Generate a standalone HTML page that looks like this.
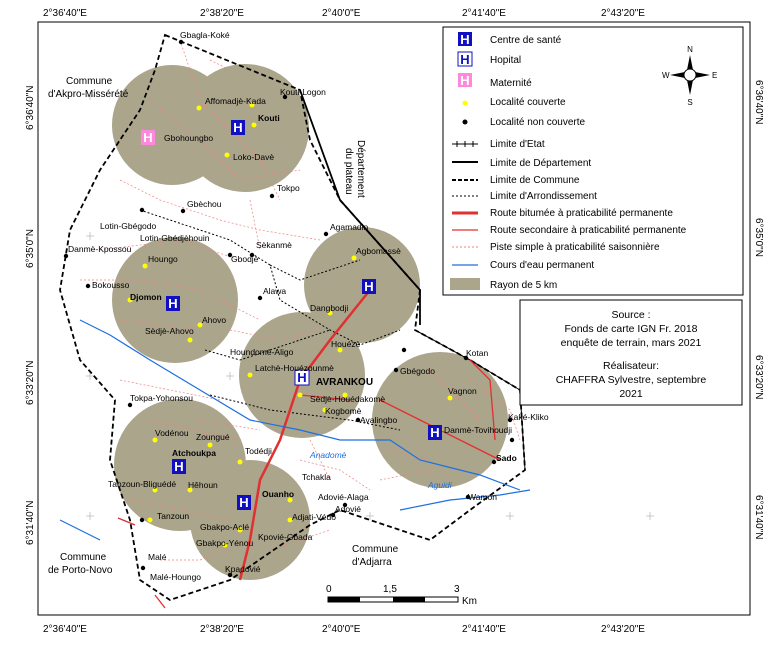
<!DOCTYPE html>
<html><head><meta charset="utf-8"><style>
body{margin:0;background:#fff;}
svg{display:block;font-family:"Liberation Sans",sans-serif;}
</style></head><body>
<svg width="775" height="645" viewBox="0 0 775 645" xmlns="http://www.w3.org/2000/svg">
<rect x="0" y="0" width="775" height="645" fill="#fff"/>
<rect x="38" y="22" width="712" height="593" fill="#fff" stroke="#000" stroke-width="1"/>
<g font-size="10" fill="#000">
<text x="43" y="16">2°36'40"E</text><text x="200" y="16">2°38'20"E</text><text x="322" y="16">2°40'0"E</text><text x="462" y="16">2°41'40"E</text><text x="601" y="16">2°43'20"E</text>
<text x="43" y="632">2°36'40"E</text><text x="200" y="632">2°38'20"E</text><text x="322" y="632">2°40'0"E</text><text x="462" y="632">2°41'40"E</text><text x="601" y="632">2°43'20"E</text>
<text transform="translate(33,130) rotate(-90)">6°36'40"N</text>
<text transform="translate(33,268) rotate(-90)">6°35'0"N</text>
<text transform="translate(33,405) rotate(-90)">6°33'20"N</text>
<text transform="translate(33,545) rotate(-90)">6°31'40"N</text>
<text transform="translate(756,80) rotate(90)">6°36'40"N</text>
<text transform="translate(756,218) rotate(90)">6°35'0"N</text>
<text transform="translate(756,355) rotate(90)">6°33'20"N</text>
<text transform="translate(756,495) rotate(90)">6°31'40"N</text>
</g>
<g stroke="#bbb" stroke-width="0.8">
<path d="M86,96h8M90,92v8M86,236h8M90,232v8M86,376h8M90,372v8M86,516h8M90,512v8M226,376h8M230,372v8M366,516h8M370,512v8M506,516h8M510,512v8M646,376h8M650,372v8M646,516h8M650,512v8M646,236h8M650,232v8M646,96h8M650,92v8"/>
</g>
<g fill="#aba58c">
<circle cx="172" cy="125" r="60"/><circle cx="245" cy="128" r="64"/>
<circle cx="175" cy="300" r="63"/><circle cx="362" cy="285" r="58"/>
<circle cx="302" cy="375" r="63"/><circle cx="440" cy="420" r="68"/>
<circle cx="180" cy="465" r="66"/><circle cx="250" cy="520" r="60"/>
</g>
<!-- pistes -->
<path d="M180,40 L200,100 L260,160 L280,200 M100,250 L180,240 L240,260 M120,320 L200,330 M150,420 L240,440 M380,480 L430,470 M430,370 L480,420 M150,100 L200,140 L240,180 L300,170 M120,180 L160,200 L220,220 L260,230 L320,240 M80,280 L140,280 L200,290 L260,320 M230,330 L280,340 L320,330 M120,380 L170,390 L220,400 M200,420 L260,430 M130,500 L180,510 L230,520 M300,460 L340,470 L370,490 M390,450 L430,460 M470,380 L510,410 L520,440 M160,560 L200,560 L230,550 M270,550 L300,540 L330,530 M250,200 L260,250 M210,60 L230,70 M310,440 L330,480" fill="none" stroke="#f08080" stroke-width="0.7" stroke-dasharray="2,2"/>
<path d="M165,35 L300,90 L310,140 L340,200 L420,290 L415,330 L470,360 L520,390 L525,470 L470,510 L430,540 L400,530 L340,510 L310,525 L230,580 L170,600 L140,580 L130,520 L110,460 L115,400 L80,360 L60,290 L70,230 L100,170 L140,110 L155,70 Z" fill="none" stroke="#000" stroke-width="1.8" stroke-dasharray="5,3"/>
<path d="M300,90 L340,200 L420,290 L420,325" fill="none" stroke="#000" stroke-width="1.8"/>
<path d="M415,330 L470,360 L520,390 L525,470" fill="none" stroke="#000" stroke-width="1"/>
<path d="M140,210 L230,240 L270,265 L280,300 L330,330 L360,345 L400,330 M270,265 L300,280 L360,260 M205,350 L240,360 L330,330 M210,395 L270,410 L350,420 L400,430" fill="none" stroke="#000" stroke-dasharray="2,2"/>
<path d="M370,290 L330,340 L300,380 L280,440 L260,480 L250,540 L240,580" fill="none" stroke="#e03030" stroke-width="2.5"/>
<path d="M380,400 L440,430 L500,460 M470,360 L490,380 L495,440 M300,395 L350,400 M118,518 L135,525 M155,595 L165,608" fill="none" stroke="#e03030" stroke-width="1.3"/>
<path d="M80,320 L110,335 L150,360 L200,390 L250,420 L300,430 L340,440 L390,440 L420,460 L480,475 L520,490 M400,510 L450,500 L500,495 L530,490 M60,520 L100,540" fill="none" stroke="#1e6fe0" stroke-width="1.2"/>
<g fill="#ffff00">
<circle cx="252" cy="105" r="2.5"/><circle cx="254" cy="125" r="2.5"/><circle cx="227" cy="155" r="2.5"/><circle cx="199" cy="108" r="2.5"/>
<circle cx="145" cy="266" r="2.5"/><circle cx="130" cy="300" r="2.5"/><circle cx="200" cy="325" r="2.5"/><circle cx="190" cy="340" r="2.5"/>
<circle cx="354" cy="258" r="2.5"/><circle cx="330" cy="313" r="2.5"/><circle cx="340" cy="350" r="2.5"/><circle cx="250" cy="375" r="2.5"/><circle cx="300" cy="395" r="2.5"/><circle cx="345" cy="395" r="2.5"/><circle cx="325" cy="410" r="2.5"/>
<circle cx="450" cy="398" r="2.5"/><circle cx="440" cy="430" r="2.5"/>
<circle cx="155" cy="440" r="2.5"/><circle cx="210" cy="445" r="2.5"/><circle cx="240" cy="462" r="2.5"/><circle cx="155" cy="490" r="2.5"/><circle cx="190" cy="490" r="2.5"/><circle cx="150" cy="520" r="2.5"/><circle cx="290" cy="500" r="2.5"/><circle cx="240" cy="530" r="2.5"/><circle cx="290" cy="520" r="2.5"/><circle cx="225" cy="545" r="2.5"/>
</g>
<g fill="#000">
<circle cx="181" cy="42" r="2.2"/><circle cx="285" cy="97" r="2.2"/><circle cx="272" cy="196" r="2.2"/><circle cx="183" cy="211" r="2.2"/><circle cx="142" cy="210" r="2.2"/><circle cx="66" cy="256" r="2.2"/><circle cx="88" cy="286" r="2.2"/><circle cx="230" cy="255" r="2.2"/><circle cx="252" cy="255" r="2.2"/><circle cx="260" cy="298" r="2.2"/><circle cx="326" cy="234" r="2.2"/><circle cx="404" cy="350" r="2.2"/><circle cx="396" cy="370" r="2.2"/><circle cx="466" cy="358" r="2.2"/><circle cx="510" cy="420" r="2.2"/><circle cx="512" cy="440" r="2.2"/><circle cx="494" cy="462" r="2.2"/><circle cx="130" cy="405" r="2.2"/><circle cx="142" cy="520" r="2.2"/><circle cx="143" cy="568" r="2.2"/><circle cx="230" cy="575" r="2.2"/><circle cx="345" cy="505" r="2.2"/><circle cx="333" cy="515" r="2.2"/><circle cx="468" cy="497" r="2.2"/><circle cx="358" cy="420" r="2.2"/>
</g>
<g font-weight="bold" font-size="13" text-anchor="middle">
<rect x="231" y="120" width="14" height="15" fill="#1010c0"/><text x="238" y="132" fill="#fff">H</text>
<rect x="166" y="296" width="14" height="15" fill="#1010c0"/><text x="173" y="308" fill="#fff">H</text>
<rect x="362" y="279" width="14" height="15" fill="#1010c0"/><text x="369" y="291" fill="#fff">H</text>
<rect x="428" y="425" width="14" height="15" fill="#1010c0"/><text x="435" y="437" fill="#fff">H</text>
<rect x="172" y="459" width="14" height="15" fill="#1010c0"/><text x="179" y="471" fill="#fff">H</text>
<rect x="237" y="495" width="14" height="15" fill="#1010c0"/><text x="244" y="507" fill="#fff">H</text>
<rect x="295" y="370" width="14" height="15" fill="#fff" stroke="#1010c0"/><text x="302" y="382" fill="#1010c0">H</text>
<rect x="141" y="130" width="14" height="15" fill="#ff88dd"/><text x="148" y="142" fill="#fff">H</text>
</g>
<g font-size="8.5" fill="#000">
<text x="180" y="38">Gbagla-Koké</text><text x="280" y="95">Kouti-Logon</text><text x="205" y="104">Affomadjè-Kada</text><text x="258" y="121" font-weight="bold">Kouti</text><text x="164" y="141">Gbohoungbo</text><text x="233" y="160">Loko-Davè</text><text x="277" y="191">Tokpo</text><text x="187" y="207">Gbèchou</text><text x="100" y="229">Lotin-Gbégodo</text><text x="140" y="241">Lotin-Gbédjèhouin</text><text x="68" y="252">Danmè-Kpossou</text><text x="148" y="262">Houngo</text><text x="231" y="262">Gbodjè</text><text x="256" y="248">Sèkanmè</text><text x="330" y="230">Agamadin</text><text x="356" y="254">Agbomassè</text><text x="92" y="288">Bokousso</text><text x="130" y="300" font-weight="bold">Djomon</text><text x="263" y="294">Alawa</text><text x="310" y="311">Dangbodji</text><text x="202" y="323">Ahovo</text><text x="145" y="334">Sèdjè-Ahovo</text><text x="331" y="347">Houézè</text><text x="230" y="355">Houndomè-Aligo</text><text x="255" y="371">Latchè-Houézounmè</text><text x="316" y="385" font-weight="bold" font-size="10">AVRANKOU</text><text x="310" y="402">Sèdjè-Houédakomè</text><text x="325" y="414">Kogbomè</text><text x="400" y="374">Gbégodo</text><text x="466" y="356">Kotan</text><text x="448" y="394">Vagnon</text><text x="444" y="433">Danmè-Tovihoudji</text><text x="360" y="423">Avalingbo</text><text x="508" y="420">Kaké-Kliko</text><text x="496" y="461" font-weight="bold">Sado</text><text x="468" y="500">Wamon</text><text x="130" y="401">Tokpa-Yohonsou</text><text x="155" y="436">Vodénou</text><text x="196" y="440">Zoungué</text><text x="245" y="454">Todédji</text><text x="172" y="456" font-weight="bold">Atchoukpa</text><text x="108" y="487">Tanzoun-Bliguédé</text><text x="188" y="488">Hêhoun</text><text x="302" y="480">Tchakla</text><text x="262" y="497" font-weight="bold">Ouanho</text><text x="318" y="500">Adovié-Alaga</text><text x="157" y="519">Tanzoun</text><text x="292" y="520">Adjati-Védo</text><text x="335" y="512">Adovié</text><text x="200" y="530">Gbakpo-Aclé</text><text x="258" y="540">Kpovié-Gbada</text><text x="196" y="546">Gbakpo-Yénou</text><text x="148" y="560">Malé</text><text x="150" y="580">Malé-Houngo</text><text x="225" y="572">Kpadovié</text>
<text x="66" y="84" font-size="10">Commune</text><text x="48" y="97" font-size="10">d'Akpro-Missérété</text>
<text x="60" y="560" font-size="10">Commune</text><text x="48" y="573" font-size="10">de Porto-Novo</text>
<text x="352" y="552" font-size="10">Commune</text><text x="352" y="565" font-size="10">d'Adjarra</text>
<text transform="translate(358,140) rotate(90)" font-size="10">Département</text><text transform="translate(346,148) rotate(90)" font-size="10">du plateau</text>
<text x="310" y="458" font-style="italic" fill="#1e6fe0">Anadomè</text>
<text x="428" y="488" font-style="italic" fill="#1e6fe0">Aguidi</text>
</g>
<rect x="443" y="27" width="300" height="268" fill="#fff" stroke="#000"/>
<g font-size="10">
<rect x="458" y="32" width="14" height="14" fill="#1010c0"/><text x="465" y="44" fill="#fff" font-weight="bold" text-anchor="middle" font-size="13">H</text><text x="490" y="43">Centre de santé</text>
<rect x="458" y="52" width="14" height="14" fill="#fff" stroke="#1010c0"/><text x="465" y="64" fill="#1010c0" font-weight="bold" text-anchor="middle" font-size="13">H</text><text x="490" y="63">Hopital</text>
<rect x="458" y="73" width="14" height="14" fill="#ff88dd"/><text x="465" y="85" fill="#fff" font-weight="bold" text-anchor="middle" font-size="13">H</text><text x="490" y="86">Maternité</text>
<circle cx="465" cy="103" r="2.5" fill="#ffff00"/><text x="490" y="105">Localité couverte</text>
<circle cx="465" cy="122" r="2.5" fill="#000"/><text x="490" y="125">Localité non couverte</text>
<line x1="452" y1="144" x2="478" y2="144" stroke="#000"/><path d="M457,141v6M465,141v6M473,141v6" stroke="#000"/><text x="490" y="147">Limite d'Etat</text>
<line x1="452" y1="162" x2="478" y2="162" stroke="#000" stroke-width="2"/><text x="490" y="166">Limite de Département</text>
<line x1="452" y1="180" x2="478" y2="180" stroke="#000" stroke-width="2" stroke-dasharray="4,2"/><text x="490" y="183">Limite de Commune</text>
<line x1="452" y1="196" x2="478" y2="196" stroke="#000" stroke-dasharray="2,2"/><text x="490" y="199">Limite d'Arrondissement</text>
<line x1="452" y1="213" x2="478" y2="213" stroke="#e03030" stroke-width="3"/><text x="490" y="216">Route bitumée à praticabilité permanente</text>
<line x1="452" y1="230" x2="478" y2="230" stroke="#e03030" stroke-width="1.3"/><text x="490" y="233">Route secondaire à praticabilité permanente</text>
<line x1="452" y1="247" x2="478" y2="247" stroke="#f08080" stroke-dasharray="2,2"/><text x="490" y="250">Piste simple à praticabilité saisonnière</text>
<line x1="452" y1="265" x2="478" y2="265" stroke="#1e6fe0" stroke-width="1.3"/><text x="490" y="268">Cours d'eau permanent</text>
<rect x="450" y="278" width="30" height="12" fill="#aba58c"/><text x="490" y="288">Rayon de 5 km</text>
</g>
<g transform="translate(690,75)">
<path d="M0,-20 L4,0 L0,20 L-4,0Z M-20,0 L0,-4 L20,0 L0,4Z" fill="#000"/>
<circle r="6" fill="#fff" stroke="#000"/>
<text y="-23" font-size="8" text-anchor="middle">N</text><text y="30" font-size="8" text-anchor="middle">S</text><text x="-28" y="3" font-size="8">W</text><text x="22" y="3" font-size="8">E</text>
</g>
<rect x="520" y="300" width="222" height="105" fill="#fff" stroke="#000"/>
<g font-size="10.5" text-anchor="middle">
<text x="631" y="318">Source :</text><text x="631" y="332">Fonds de carte IGN Fr. 2018</text><text x="631" y="346">enquête de terrain, mars 2021</text>
<text x="631" y="369">Réalisateur:</text><text x="631" y="383">CHAFFRA Sylvestre, septembre</text><text x="631" y="397">2021</text>
</g>
<g font-size="10">
<text x="326" y="592">0</text><text x="383" y="592">1,5</text><text x="454" y="592">3</text><text x="462" y="604">Km</text>
<rect x="328" y="597" width="130" height="5" fill="#fff" stroke="#000"/>
<rect x="328" y="597" width="32" height="5" fill="#000"/><rect x="393" y="597" width="32" height="5" fill="#000"/>
</g>
</svg>
</body></html>
